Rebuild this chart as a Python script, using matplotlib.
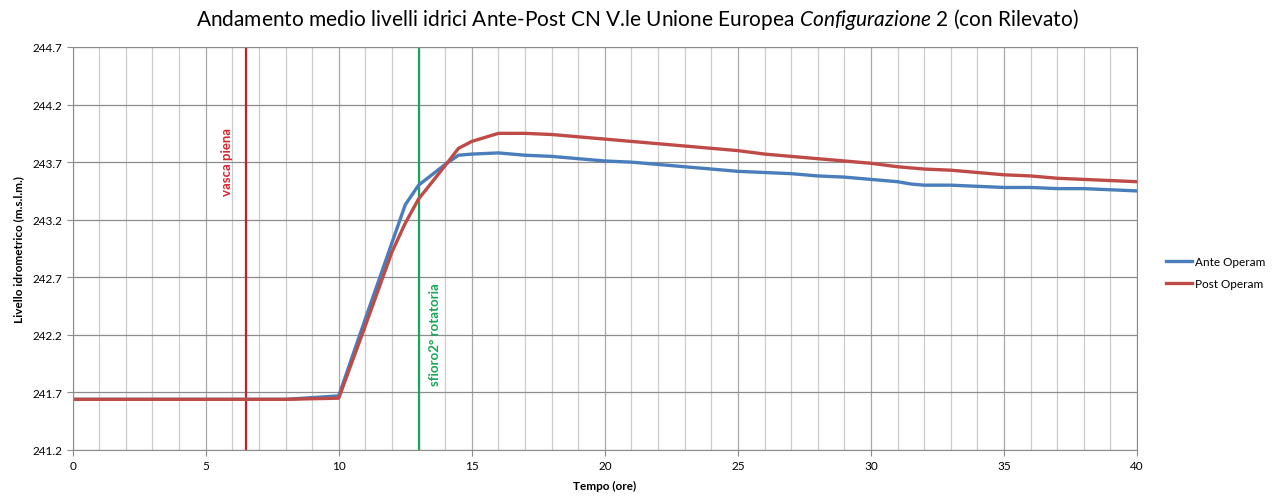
import matplotlib.pyplot as plt
import numpy as np
from matplotlib.ticker import MultipleLocator

plt.rcParams['font.family'] = ['Lato', 'DejaVu Sans']
plt.rcParams['mathtext.fontset'] = 'custom'
plt.rcParams['mathtext.rm'] = 'Lato'
plt.rcParams['mathtext.it'] = 'Lato:italic'

# ore
tempo = [0, 1, 2, 3, 4, 5, 6, 7, 8, 9, 10, 11, 12, 12.5, 13, 14, 14.5, 15, 16,
         17, 18, 19, 20, 21, 22, 23, 24, 25, 26, 27, 28, 29, 30, 31, 31.5,
         32, 33, 34, 35, 36, 37, 38, 39, 40]
ante = [241.64, 241.64, 241.64, 241.64, 241.64, 241.64, 241.64, 241.64, 241.64,
        241.655, 241.67, 242.34, 243.00, 243.33, 243.50, 243.68, 243.76, 243.77,
        243.78, 243.76, 243.75, 243.73, 243.71, 243.70, 243.68, 243.66, 243.64,
        243.62, 243.61, 243.60, 243.58, 243.57, 243.55, 243.53, 243.51, 243.50,
        243.50, 243.49, 243.48, 243.48, 243.47, 243.47, 243.46, 243.45]
post = [241.64, 241.64, 241.64, 241.64, 241.64, 241.64, 241.64, 241.64, 241.64,
        241.645, 241.65, 242.28, 242.92, 243.17, 243.38, 243.67, 243.82, 243.88,
        243.95, 243.95, 243.94, 243.92, 243.90, 243.88, 243.86, 243.84, 243.82,
        243.80, 243.77, 243.75, 243.73, 243.71, 243.69, 243.66, 243.65, 243.64,
        243.63, 243.61, 243.59, 243.58, 243.56, 243.55, 243.54, 243.53]

t_vasca = 6.5
t_sfioro = 13.0

fig = plt.figure(figsize=(12.88, 5.02), dpi=100)
ax = fig.add_axes([0.0564, 0.1016, 0.8264, 0.8028])

ax.set_xlim(0, 40)
ax.set_ylim(241.2, 244.7)
ax.xaxis.set_major_locator(MultipleLocator(5))
ax.xaxis.set_minor_locator(MultipleLocator(1))
ax.set_yticks(np.arange(241.2, 244.71, 0.5))
ax.set_yticklabels(['%.1f' % v for v in np.arange(241.2, 244.71, 0.5)])
ax.grid(which='minor', axis='x', color='#cdcdcd', lw=0.9)
ax.grid(which='major', axis='x', color='#a8a8a8', lw=0.9)
ax.grid(which='major', axis='y', color='#8c8c8c', lw=0.9)
ax.set_axisbelow(True)
for s in ax.spines.values():
    s.set_color('#8c8c8c')
ax.tick_params(which='both', length=4, color='#8c8c8c', labelsize=8.5)
ax.tick_params(which='minor', length=0)

ax.axvline(t_vasca, color='#c0202a', lw=1.6)
ax.axvline(t_sfioro, color='#16a656', lw=1.6)

ax.plot(tempo, ante, color='#4a7ebb', lw=2.4, label='Ante Operam')
ax.plot(tempo, post, color='#be4b48', lw=2.4, label='Post Operam')

ax.text(5.8, 243.71, 'vasca piena', rotation=90, ha='center', va='center',
        color='#d7262e', fontsize=9.5, fontweight='bold')
ax.text(13.6, 242.21, 'sfioro2° rotatoria', rotation=90, ha='center', va='center',
        color='#16a656', fontsize=9.5, fontweight='bold')

ax.set_xlabel('Tempo (ore)', fontsize=8.5, fontweight='bold', labelpad=6)
ax.set_ylabel('Livello idrometrico (m.s.l.m.)', fontsize=8.5, fontweight='bold', labelpad=6)

fig.suptitle('Andamento medio livelli idrici Ante-Post CN V.le Unione Europea '
             r'$\it{Configurazione\ 2}$ (con Rilevato)', x=0.495, y=0.987, fontsize=15)

fig.legend(loc='center left', bbox_to_anchor=(0.897, 0.455), frameon=False,
           fontsize=8.5, handlelength=2.2, handletextpad=0.3, labelspacing=1.0)

plt.savefig('out.png', dpi=100)
